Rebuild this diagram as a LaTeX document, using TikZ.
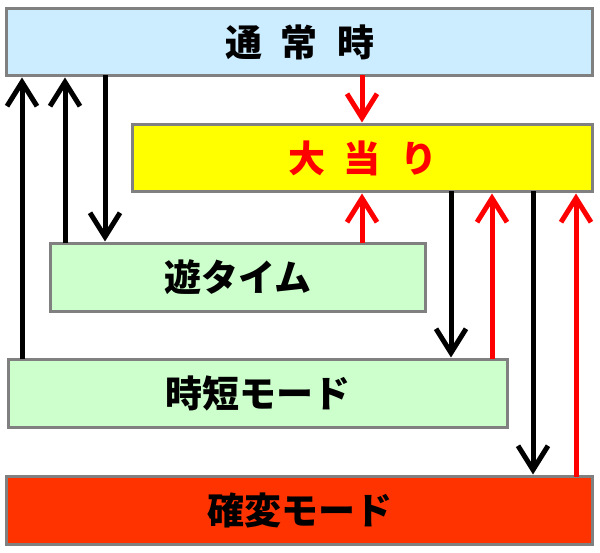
\documentclass[tikz,border=0pt]{standalone}
\usepackage{fontspec}
\newfontfamily\cjk{Noto Sans CJK JP}
\usetikzlibrary{arrows.meta}
\definecolor{boxgray}{HTML}{808080}
\definecolor{skyfill}{HTML}{CCECFF}
\definecolor{greenfill}{HTML}{CCFFCC}
\definecolor{yellowfill}{HTML}{FFFF00}
\definecolor{orangered}{HTML}{FF3300}
\definecolor{arrred}{HTML}{FF0000}
\tikzset{
  statebox/.style={draw=boxgray, line width=3pt, rectangle, inner sep=0pt, outer sep=0pt,
    font=\cjk\bfseries\fontsize{37}{40}\selectfont},
  conn/.style={line width=5pt, shorten >=2pt, -{Straight Barb[length=24pt,width=30pt]}},
  blackconn/.style={conn, draw=black},
  redconn/.style={conn, draw=arrred},
}
\newcommand{\gap}{\hspace{19pt}}
\begin{document}
\begin{tikzpicture}[x=1pt,y=-1pt]
\useasboundingbox (0,0) rectangle (600,553);
\node[statebox, fill=skyfill, minimum width=586pt, minimum height=67pt] (tsujo) at (299.5,42) {通\gap 常\gap 時};
\node[statebox, fill=yellowfill, text=arrred, minimum width=460pt, minimum height=67pt] (atari) at (362.5,158) {大\gap 当\gap り};
\node[statebox, fill=greenfill, minimum width=375pt, minimum height=68pt] (yu) at (238,277.5) {遊タイム};
\node[statebox, fill=greenfill, minimum width=499pt, minimum height=68pt] (jitan) at (257.75,393.5) {時短モード};
\node[statebox, fill=orangered, minimum width=586pt, minimum height=68pt] (kakuhen) at (299.5,510.5) {確変モード};
\coordinate (c1) at (22,0);
\coordinate (c2) at (65,0);
\coordinate (c3) at (105,0);
\coordinate (c4) at (362,0);
\coordinate (c5) at (451,0);
\coordinate (c6) at (492,0);
\coordinate (c7) at (533,0);
\coordinate (c8) at (576,0);
\draw[blackconn] (c1 |- jitan.north) -- (c1 |- tsujo.south);
\draw[blackconn] (c2 |- yu.north) -- (c2 |- tsujo.south);
\draw[blackconn] (c3 |- tsujo.south) -- (c3 |- yu.north);
\draw[redconn] (c4 |- tsujo.south) -- (c4 |- atari.north);
\draw[redconn] (c4 |- yu.north) -- (c4 |- atari.south);
\draw[blackconn] (c5 |- atari.south) -- (c5 |- jitan.north);
\draw[redconn] (c6 |- jitan.north) -- (c6 |- atari.south);
\draw[blackconn] (c7 |- atari.south) -- (c7 |- kakuhen.north);
\draw[redconn] (c8 |- kakuhen.north) -- (c8 |- atari.south);
\end{tikzpicture}
\end{document}
